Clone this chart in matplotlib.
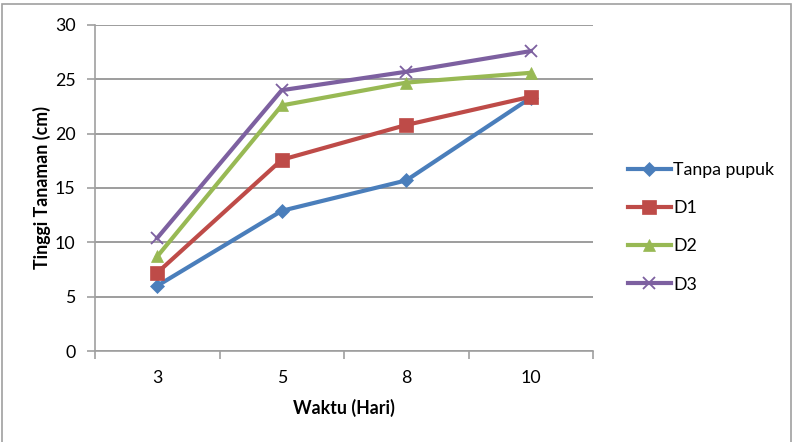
import matplotlib
matplotlib.use("Agg")
import matplotlib.pyplot as plt
from matplotlib.patches import Rectangle
import numpy as np

days = ["3", "5", "8", "10"]
tanpa_pupuk = [6.0, 12.9, 15.7, 23.3]
d1 = [7.2, 17.6, 20.8, 23.4]
d2 = [8.7, 22.6, 24.7, 25.6]
d3 = [10.4, 24.0, 25.7, 27.6]
series_names = ["Tanpa pupuk", "D1", "D2", "D3"]

plt.rcParams['font.family'] = ['Lato', 'DejaVu Sans']

fig = plt.figure(figsize=(7.93, 4.42), dpi=100)
W, H = 793, 442
ax = fig.add_axes([95 / W, 1 - 351 / H, (593 - 95) / W, (351 - 25) / H])

# outer chart border
fig.patches.append(Rectangle((1.5 / W, -0.05), (791 - 1.5) / W, 1.05 - 3.5 / H,
                             transform=fig.transFigure, fill=False,
                             edgecolor="#a0a0a0", linewidth=1.2))

x = np.arange(len(days))
colors = ["#4a7ebb", "#be4b48", "#98b954", "#7d60a0"]
markers = ["D", "s", "^", "x"]
msizes = [7.5, 9.5, 9, 9]
for vals, name, c, m, ms in zip([tanpa_pupuk, d1, d2, d3], series_names, colors, markers, msizes):
    ax.plot(x, vals, color=c, linewidth=3, marker=m, markersize=ms,
            markeredgewidth=1.3 if m == "x" else 0.5, markeredgecolor=c,
            markerfacecolor=c, label=name, zorder=3)

fs = 12.8
ax.set_xlim(-0.5, len(days) - 0.5)
ax.set_ylim(0, 30)
ax.set_yticks(np.arange(0, 31, 5))
ax.set_xticks(x)
ax.set_xticklabels(days)
ax.set_xticks(np.arange(-0.5, len(days)), minor=True)
ax.tick_params(axis="x", which="major", length=0, pad=14, labelsize=fs)
ax.tick_params(axis="x", which="minor", length=6, color="#a0a0a0", width=1.2)
ax.tick_params(axis="y", length=6, color="#a0a0a0", width=1.2, pad=8, labelsize=fs)
ax.grid(axis="y", color="#8c8c8c", linewidth=1.2)
ax.set_axisbelow(True)
for s in ["top", "right"]:
    ax.spines[s].set_visible(False)
for s in ["left", "bottom"]:
    ax.spines[s].set_color("#a0a0a0")
    ax.spines[s].set_linewidth(1.2)

ax.set_xlabel("Waktu (Hari)", fontweight="bold", fontsize=fs, labelpad=9)
ax.set_ylabel("Tinggi Tanaman (cm)", fontweight="bold", fontsize=fs, labelpad=3)

leg = fig.legend(loc="upper left", bbox_to_anchor=(612 / W, 1 - 146 / H),
                 frameon=False, fontsize=fs, handlelength=2.4,
                 handletextpad=0.15, labelspacing=1.25)

fig.savefig("out.png", dpi=100)
